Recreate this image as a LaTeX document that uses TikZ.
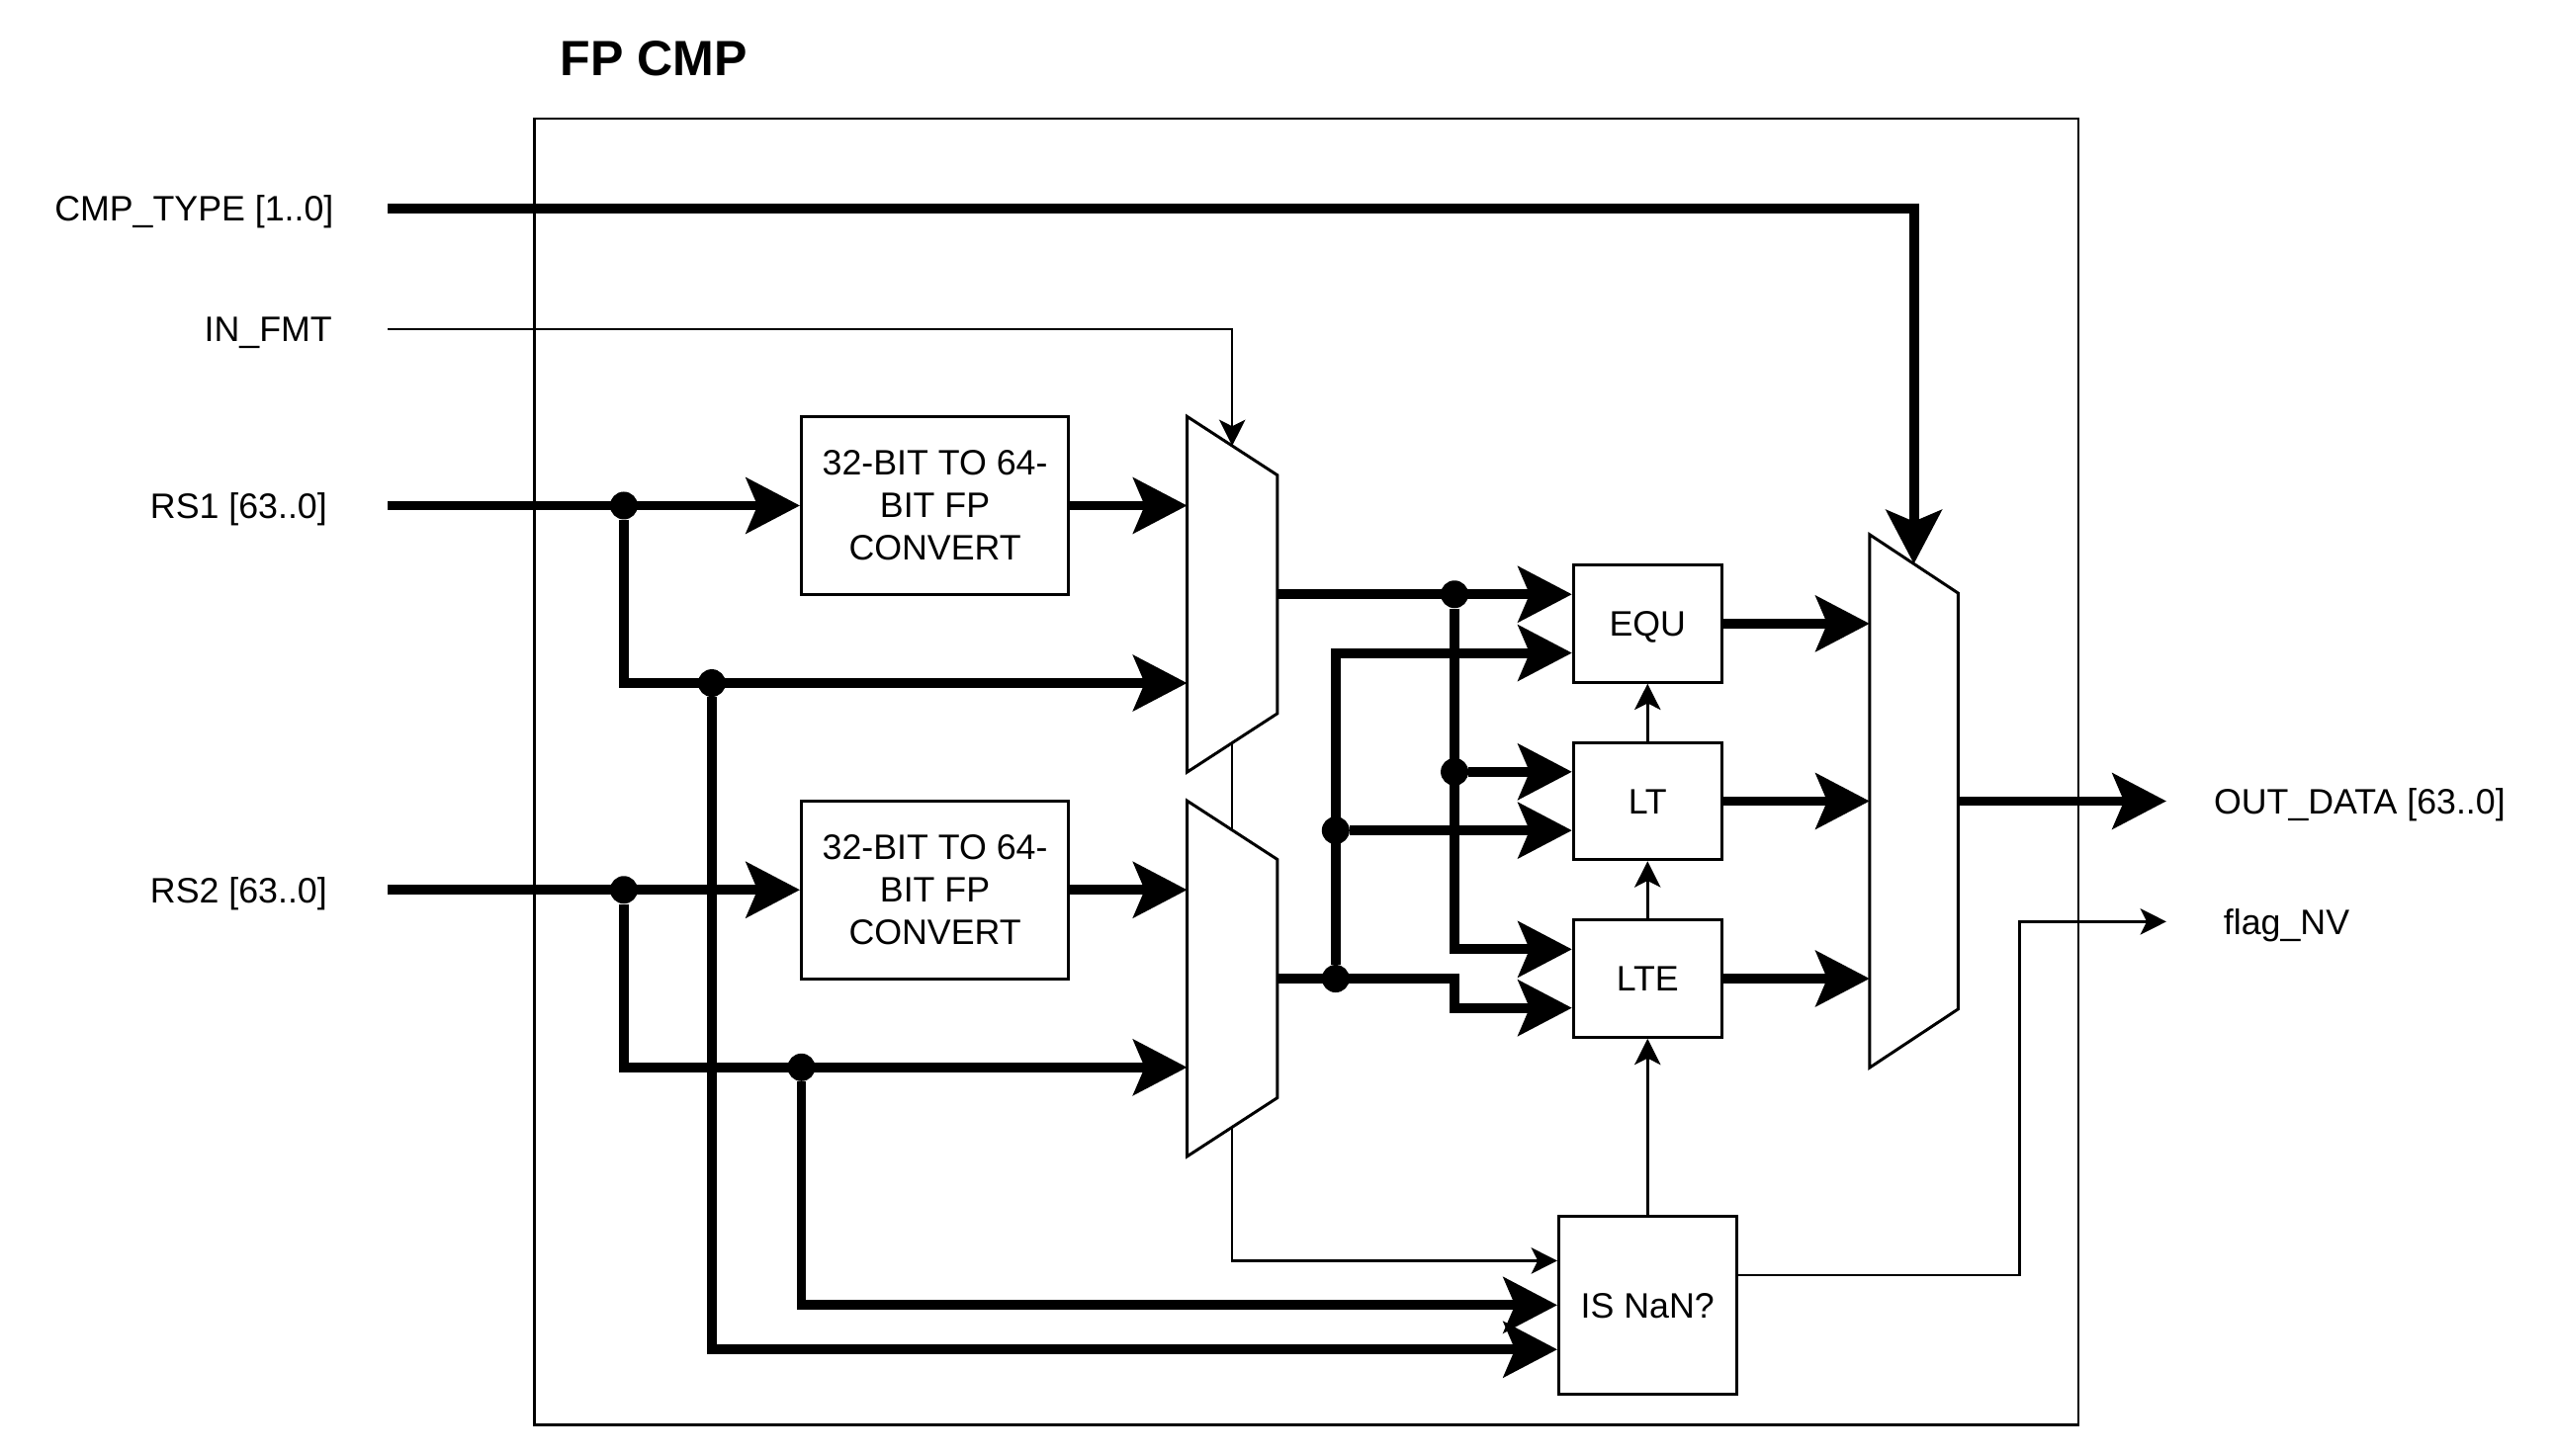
\documentclass[tikz,border=0pt]{standalone}
\usepackage{fontspec}
\setmainfont{Liberation Sans}
\usetikzlibrary{arrows.meta, positioning, calc}
\newcommand*{\sigfont}{\fontsize{21.7pt}{26pt}\selectfont}
\newcommand*{\titlefont}{\fontsize{30.4pt}{36pt}\selectfont\bfseries}
\tikzstyle{block} = [draw, rectangle, line width=1.8pt, fill=white, font=\sigfont, inner sep=2pt, align=center]
\tikzstyle{convbox} = [block, minimum width=164pt, minimum height=109pt]
\tikzstyle{cmpbox} = [block, minimum width=91pt, minimum height=72pt, text height=15.5pt, text depth=0pt]
\tikzstyle{muxbox} = [rectangle, minimum width=55pt, inner sep=0pt]
\tikzstyle{port} = [font=\sigfont, inner sep=0pt, text height=15.5pt, text depth=0pt]
\tikzstyle{junction} = [circle, fill, inner sep=0pt, minimum size=17pt]
\tikzstyle{bus} = [line width=6pt, -{Stealth[length=33pt, width=34pt, inset=7pt]}]
\tikzstyle{wire} = [line width=1.5pt, -{Stealth[length=16pt, width=16pt, inset=4pt]}]

\begin{document}
\begin{tikzpicture}[x=1pt, y=1pt]
    \useasboundingbox (0,0) rectangle (1568,894);
    \node (frame) [draw, line width=1.5pt, minimum width=948pt, minimum height=802pt, inner sep=0pt] at (802,420) {};
    \node (title) [font=\titlefont] at (401.5,858) {FP CMP};

    % Ports.
    \node (cmp type) [port, anchor=east] at (205,766) {CMP\_TYPE [1..0]};
    \node (in fmt) [port, anchor=east] at (204,692) {IN\_FMT};
    \node (rs 1) [port, anchor=east] at (201,583.5) {RS1 [63..0]};
    \node (rs 2) [port, anchor=east] at (201,347.5) {RS2 [63..0]};
    \node (out data) [port, anchor=west] at (1359,402) {OUT\_DATA [63..0]};
    \node (flag nv) [port, anchor=west] at (1365,328) {flag\_NV};
    \coordinate (in x) at (238,0);
    \coordinate (flag x) at (1240,0);

    % Blocks.
    \node (conv 1) [convbox] at (574,583.5) {32-BIT TO 64-\\BIT FP\\CONVERT};
    \node (conv 2) [convbox] at (574,347.5) {32-BIT TO 64-\\BIT FP\\CONVERT};
    \node (equ) [cmpbox] at (1011.5,511) {EQU};
    \node (lt) [cmpbox] at (1011.5,402) {LT};
    \node (lte) [cmpbox] at (1011.5,293) {LTE};
    \node (nan) [cmpbox, minimum width=109pt, minimum height=109pt] at (1011.5,92.5) {IS NaN?};

    % Muxes, mux 3 is the output mux.
    \node (mux 1) [muxbox, minimum height=218pt] at (756.5,529) {};
    \node (mux 2) [muxbox, minimum height=218pt] at (756.5,293) {};
    \node (mux 3) [muxbox, minimum width=54pt, minimum height=327pt] at (1175,402) {};

    \foreach \i in {1, 2, 3} {%
        \draw [line width=1.8pt, fill=white] (mux \i.north west) -- ([yshift=-36pt]mux \i.north east)
            -- ([yshift=36pt]mux \i.south east) -- (mux \i.south west) -- cycle;
    }
    \coordinate (mux 1 top) at ([yshift=-18pt]mux 1.north);
    \coordinate (mux 1 bottom) at ([yshift=18pt]mux 1.south);
    \coordinate (mux 2 top) at ([yshift=-18pt]mux 2.north);
    \coordinate (mux 2 bottom) at ([yshift=18pt]mux 2.south);
    \coordinate (mux 3 top) at ([yshift=-18pt]mux 3.north);
    \coordinate (mux 1 in b) at ([yshift=-54.5pt]mux 1.west);
    \coordinate (mux 2 in b) at ([yshift=-54.5pt]mux 2.west);
    \coordinate (equ in a) at ([yshift=18pt]equ.west);
    \coordinate (equ in b) at ([yshift=-18pt]equ.west);
    \coordinate (lt in a) at ([yshift=18pt]lt.west);
    \coordinate (lt in b) at ([yshift=-18pt]lt.west);
    \coordinate (lte in a) at ([yshift=18pt]lte.west);
    \coordinate (lte in b) at ([yshift=-18pt]lte.west);
    \coordinate (nan in a) at ([yshift=27.25pt]nan.west);
    \coordinate (nan in c) at ([yshift=-27.25pt]nan.west);
    \coordinate (nan out) at ([yshift=18.5pt]nan.east);

    % Junctions.
    \node (rs 1 split) [junction] at (383,583.5) {};
    \node (rs 1 tap) [junction] at (437,474.5) {};
    \node (rs 2 split) [junction] at (383,347.5) {};
    \node (rs 2 tap) [junction] at (492,238.5) {};
    \node (mux 1 split a) [junction] at (893,529) {};
    \node (mux 1 split b) [junction] at (893,420) {};
    \node (mux 2 split a) [junction] at (820,293) {};
    \node (mux 2 split b) [junction] at (820,384) {};

    % Arrows.
    \draw [bus] (cmp type.east -| in x) -| (mux 3 top);
    \draw [wire] (in fmt.east -| in x) -| (mux 1 top);
    \draw [wire, -] (mux 1 bottom) -- (mux 2 top);
    \draw [wire] (mux 2 bottom) |- (nan in a);

    \draw [bus] (rs 1.east -| in x) -- (conv 1);
    \draw [bus] (conv 1) -- (conv 1 -| mux 1.west);
    \draw [bus] (rs 1 split) |- (mux 1 in b);
    \draw [bus] (rs 1 tap) |- (nan in c);

    \draw [bus] (rs 2.east -| in x) -- (conv 2);
    \draw [bus] (conv 2) -- (conv 2 -| mux 2.west);
    \draw [bus] (rs 2 split) |- (mux 2 in b);
    \draw [bus] (rs 2 tap) |- (nan.west);

    \draw [bus] (mux 1.east) -- (equ in a);
    \draw [bus] (mux 1 split a) |- (lte in a);
    \draw [bus] (mux 1 split b) -- (lt in a);
    \draw [bus] (mux 2.east) -- (mux 2.east -| mux 1 split a) |- (lte in b);
    \draw [bus] (mux 2 split a) |- (equ in b);
    \draw [bus] (mux 2 split b) -- (lt in b);

    \foreach \c in {equ, lt, lte} {%
        \draw [bus] (\c) -- (\c -| mux 3.west);
    }
    \draw [wire] (lt) -- (equ);
    \draw [wire] (lte) -- (lt);
    \draw [wire] (nan) -- (lte);

    \draw [bus] (mux 3.east) -- ([xshift=-29pt]out data.west);
    \draw [wire] (nan out) -| (flag x |- flag nv) -- ([xshift=-35pt]flag nv.west);
\end{tikzpicture}
\end{document}
